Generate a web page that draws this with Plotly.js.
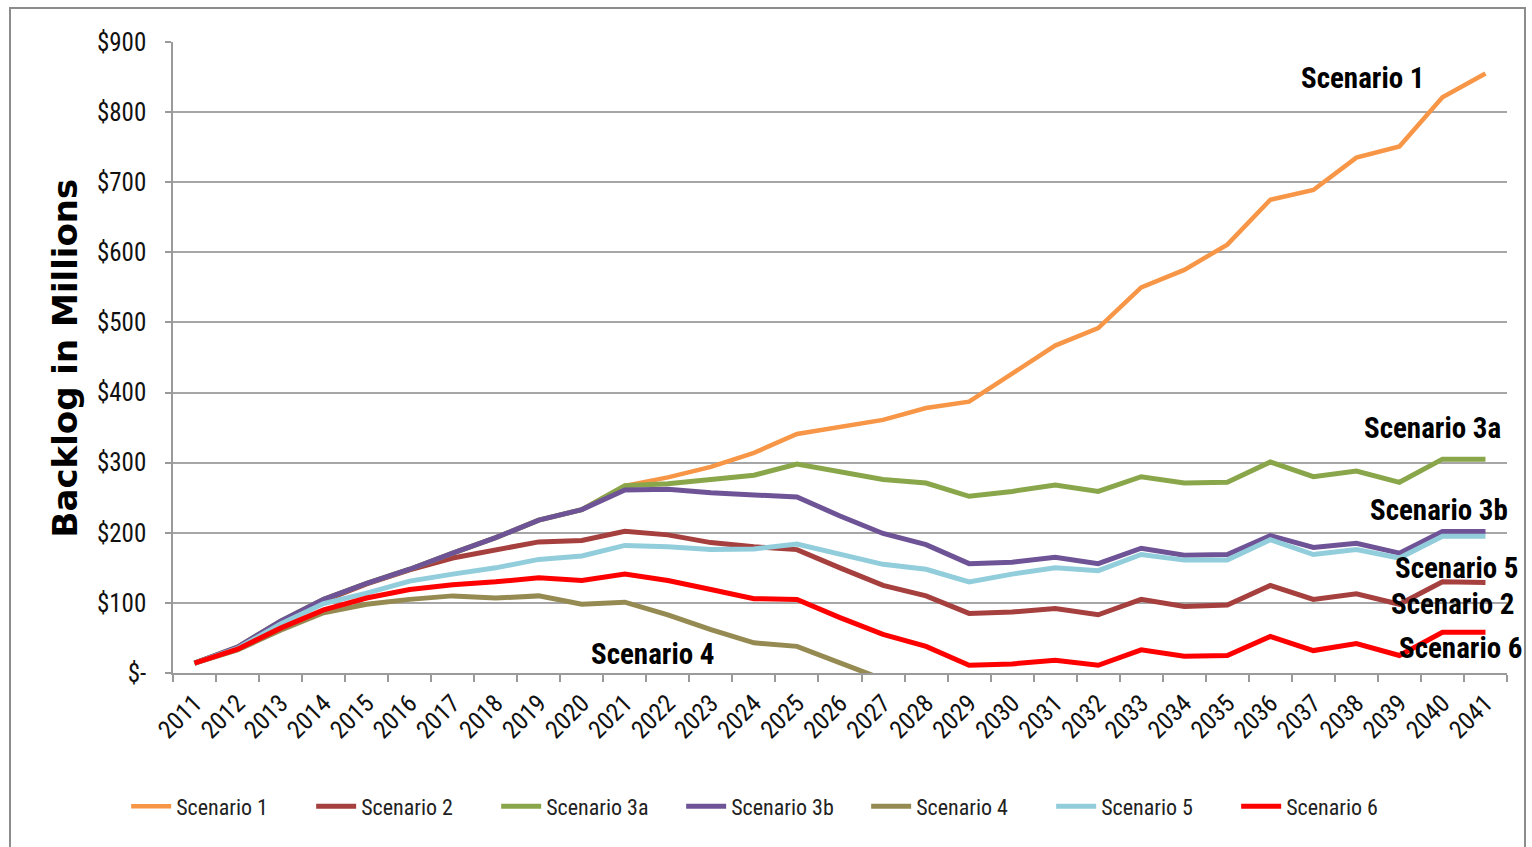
<!DOCTYPE html>
<html>
<head>
<meta charset="utf-8">
<script src="https://cdn.plot.ly/plotly-3.0.1.min.js"></script>
<style>
  html, body { margin: 0; padding: 0; background: #fff; }
  #wrap { position: relative; width: 1532px; height: 847px; overflow: hidden; }
  #frame { position: absolute; left: 9px; top: 7px; width: 1517px; height: 900px; border: 2px solid #8c8c8c; box-sizing: border-box; pointer-events: none; }
  #chart { position: absolute; left: 0; top: 0; width: 1532px; height: 847px; }
</style>
</head>
<body>
<div id="wrap">
  <div id="chart"></div>
  <div id="frame"></div>
</div>
<script>
const years = ["2011","2012","2013","2014","2015","2016","2017","2018","2019","2020",
  "2021","2022","2023","2024","2025","2026","2027","2028","2029","2030",
  "2031","2032","2033","2034","2035","2036","2037","2038","2039","2040","2041"];

const scenario1  = [14,37,74,105,128,148,171,193,218,233, 267,279,294,314,341,351,361,378,387,427, 467,492,550,575,611,675,689,735,751,821,855];
const scenario2  = [14,35,72,103,127,147,164,176,187,189, 202,197,186,180,176,150,125,110,85,87, 92,83,105,95,97,125,105,113,98,130,129];
const scenario3a = [14,37,74,105,128,148,171,193,218,233, 267,270,276,282,298,287,276,271,252,259, 268,259,280,271,272,301,280,288,272,305,305];
const scenario3b = [14,37,74,105,128,148,171,193,218,233, 261,262,257,254,251,224,199,183,156,158, 165,156,178,168,169,196,179,185,171,202,202];
const scenario4  = [14,33,61,86,98,105,110,107,110,98, 101,83,62,43,38,14,-9,null,null,null, null,null,null,null,null,null,null,null,null,null,null];
const scenario5  = [14,35,70,99,114,131,141,150,162,167, 182,180,176,177,184,169,155,148,130,141, 150,146,169,161,161,190,169,176,164,195,195];
const scenario6  = [14,34,64,90,107,119,126,130,136,132, 141,132,119,106,105,79,55,38,11,13, 18,11,33,24,25,52,32,42,25,58,58];

const seriesNames = ["Scenario 1","Scenario 2","Scenario 3a","Scenario 3b","Scenario 4","Scenario 5","Scenario 6"];
const seriesData  = [scenario1, scenario2, scenario3a, scenario3b, scenario4, scenario5, scenario6];
const seriesColors = ["#F79646","#A5403E","#8AA64A","#6E5496","#958B52","#92CDDC","#FF0000"];

const yTickVals = [0,100,200,300,400,500,600,700,800,900];
const yTickText = ["$-","$100","$200","$300","$400","$500","$600","$700","$800","$900"];

const FONT = "Liberation Sans Narrow, Arial Narrow, Roboto Condensed, Noto Sans, sans-serif";

const traces = seriesNames.map((n, i) => ({
  type: "scatter",
  mode: "lines",
  name: n,
  x: years,
  y: seriesData[i],
  line: { color: seriesColors[i], width: i === 0 ? 4.5 : 5 },
  connectgaps: false,
  hoverinfo: "x+y+name"
}));

const labelFont = { family: FONT, size: 29, color: "#000" };
function lab(text, x, y) {
  return { text: "<b>" + text + "</b>", x: x, y: y, xref: "paper", yref: "paper",
           xanchor: "center", yanchor: "middle", showarrow: false, font: labelFont };
}

const layout = {
  width: 1532, height: 847,
  margin: { l: 173, r: 25, t: 42, b: 174, pad: 0 },
  paper_bgcolor: "#fff", plot_bgcolor: "#fff",
  showlegend: true,
  legend: {
    orientation: "h", xref: "container", yref: "container",
    x: 0.505, xanchor: "center", y: 0.048, yanchor: "middle",
    font: { family: FONT, size: 22, color: "#222" },
    entrywidth: 130, entrywidthmode: "pixels",
    itemwidth: 40, traceorder: "normal"
  },
  xaxis: {
    type: "category",
    range: [-0.5, 30.5],
    tickson: "boundaries",
    ticks: "outside", ticklen: 7, tickcolor: "#9a9a9a", tickwidth: 1.5,
    showline: true, linecolor: "#9a9a9a", linewidth: 1.5,
    showgrid: false, zeroline: false,
    tickangle: -45,
    tickfont: { family: FONT, size: 25, color: "#111" },
    ticklabelstandoff: 4,
    fixedrange: true
  },
  yaxis: {
    range: [0, 900],
    tickvals: yTickVals, ticktext: yTickText,
    ticks: "outside", ticklen: 6, tickcolor: "#9a9a9a", tickwidth: 1.5,
    showline: true, linecolor: "#9a9a9a", linewidth: 1.5,
    showgrid: true, gridcolor: "#a6a6a6", gridwidth: 1.5,
    zeroline: false,
    tickfont: { family: FONT, size: 25, color: "#111" },
    ticklabelstandoff: 14,
    fixedrange: true
  },
  annotations: [
    { text: "<b>Backlog in Millions</b>", x: -0.081, y: 0.5, xref: "paper", yref: "paper",
      xanchor: "center", yanchor: "middle", textangle: -90, showarrow: false,
      font: { family: "DejaVu Sans, Verdana, sans-serif", size: 34, color: "#000" } },
    lab("Scenario 1", 0.892, 0.943),
    lab("Scenario 3a", 0.944, 0.388),
    lab("Scenario 3b", 0.949, 0.258),
    lab("Scenario 5", 0.962, 0.166),
    lab("Scenario 2", 0.959, 0.109),
    lab("Scenario 6", 0.965, 0.039),
    lab("Scenario 4", 0.3598, 0.030)
  ]
};

Plotly.newPlot("chart", traces, layout, { displayModeBar: false, staticPlot: false });
</script>
</body>
</html>
